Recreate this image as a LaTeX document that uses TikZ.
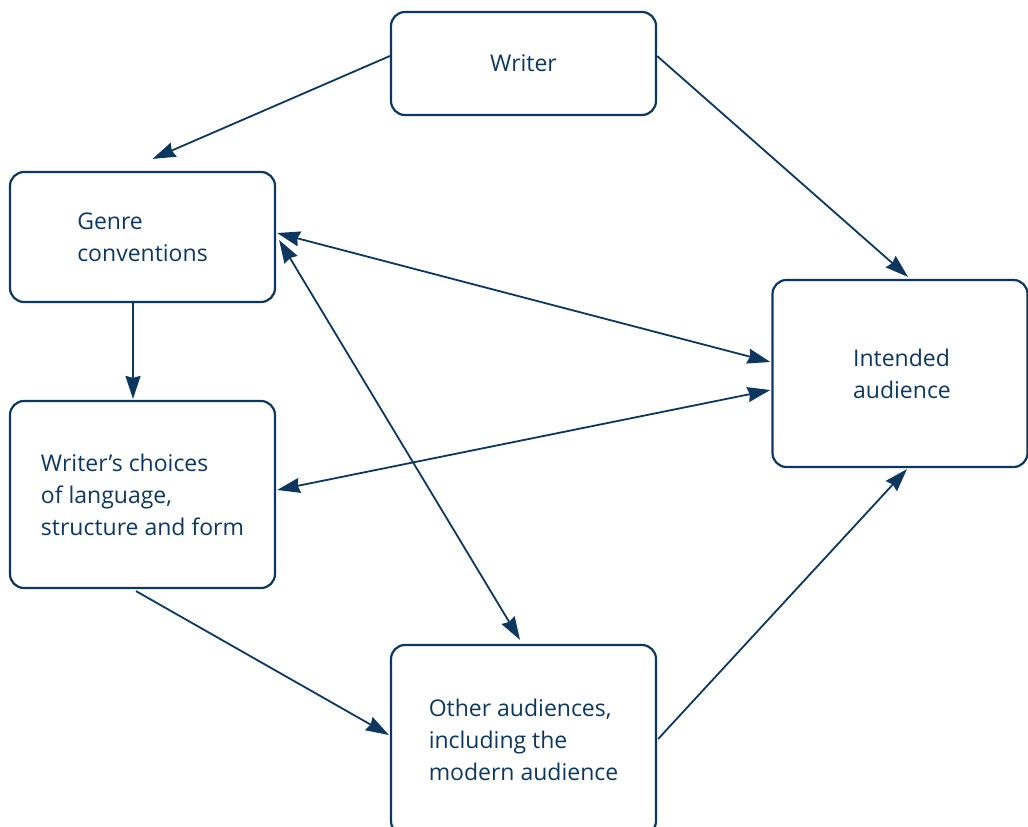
\documentclass[tikz,border=0pt]{standalone}
\usepackage{fontspec}
\setmainfont{Open Sans}
\usetikzlibrary{arrows.meta,calc}
\definecolor{navy}{RGB}{14,55,96}
\begin{document}
\begin{tikzpicture}[x=1pt,y=-1pt,
  box/.style={draw=navy,line width=2.2pt,rounded corners=14pt,minimum width=265pt,align=left,
    text=navy,font=\fontsize{23}{32}\selectfont,inner sep=0pt},
  tip/.tip={Stealth[length=23pt,width=15pt,inset=2pt]},
  conn/.style={draw=navy,line width=1.8pt,-tip},
  dconn/.style={draw=navy,line width=1.8pt,tip-tip}]
\useasboundingbox (0,0) rectangle (1028,827);
\clip (0,0) rectangle (1028,827);
\node[box,minimum height=103pt] (writer) at (523.5,63.5) {Writer};
\node[box,minimum height=130pt] (genre) at (142.5,237) {Genre\\conventions};
\node[box,minimum height=187pt] (choices) at (142.5,494.5) {Writer’s choices\\of language,\\structure and form};
\node[box,minimum height=187pt,minimum width=255pt] (intended) at (900,373.5) {\hspace*{4pt}Intended\\\hspace*{4pt}audience};
\node[box,minimum height=190pt] (other) at (523.5,740) {Other audiences,\\including the\\modern audience};
\draw[conn] ($(writer.west)+(0,-7.5)$) -- ($(genre.north)+(10,-12)$);
\draw[conn] ($(writer.east)+(0,-7.5)$) -- ($(intended.north)+(8,-2)$);
\draw[conn] ($(genre.south)+(-9.5,0)$) -- ($(choices.north)+(-9.5,-1)$);
\draw[dconn] ($(genre.east)+(1,-4)$) -- ($(intended.west)+(-1,-11.5)$);
\draw[dconn] ($(choices.east)+(1,-4.5)$) -- ($(intended.west)+(-1,16.5)$);
\draw[dconn] ($(genre.east)+(3,3)$) -- ($(other.north)+(-3.5,-4)$);
\draw[conn] ($(choices.south)+(-6.5,2)$) -- ($(other.west)+(-1,-5)$);
\draw[conn] ($(other.east)+(1,-1)$) -- ($(intended.south)+(7,1)$);
\end{tikzpicture}
\end{document}
